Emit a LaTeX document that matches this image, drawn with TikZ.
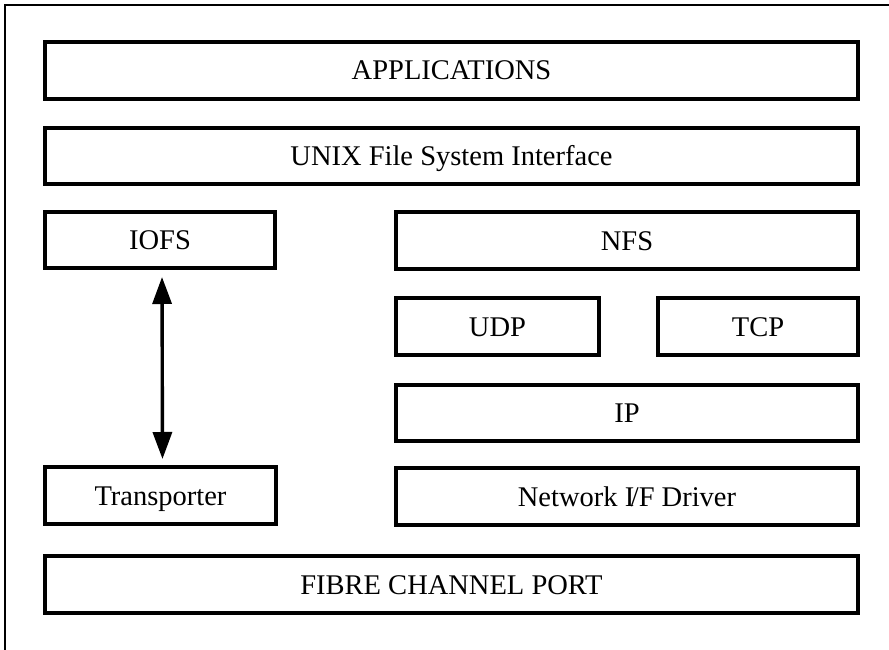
\documentclass[tikz,border=0pt]{standalone}
\usepackage{fontspec}
\setmainfont{Liberation Serif}
\usetikzlibrary{arrows.meta}

\tikzset{
  layer/.style={draw, line width=3.1pt, inner sep=0pt, outer sep=0pt,
    text height=19pt, text depth=0pt,
    font=\fontsize{28.5}{34}\selectfont},
  frameline/.style={line width=2.2pt},
  linkarrow/.style={line width=3.4pt,
    {Triangle[length=27pt,width=19pt]}-{Triangle[length=27pt,width=19pt]}}
}

% layer box: #1 name, #2 left, #3 top, #4 right, #5 bottom, #6 text
\newcommand{\layerbox}[6]{%
  \node[layer, minimum width={#4-#2}, minimum height={#5-#3}]
    (#1) at ({(#2+#4)/2},{(#3+#5)/2}) {#6};}

\begin{document}
\begin{tikzpicture}[x=1pt,y=-1pt]
  \useasboundingbox (0,0) rectangle (889,650);

  % enclosing frame, open to the right and bottom
  \draw[frameline] (5,650) -- (5,5) -- (889,5);

  \layerbox{apps}{45}{42}{858}{99}{APPLICATIONS}
  \layerbox{unix}{45}{128}{858}{184}{UNIX File System Interface}
  \layerbox{iofs}{45}{212}{275}{268}{IOFS}
  \layerbox{nfs}{396}{212}{858}{269}{NFS}
  \layerbox{udp}{396}{298}{599}{355}{UDP}
  \layerbox{tcp}{658}{298}{858}{355}{TCP}
  \layerbox{ip}{396}{385}{858}{441}{IP}
  \layerbox{trans}{45}{467}{276}{524}{Transporter}
  \layerbox{netdrv}{396}{468}{858}{525}{Network I\kern-0.12em/F Driver}
  \layerbox{fcport}{45}{556}{858}{613}{FIBRE CHANNEL PORT}

  % IOFS <-> Transporter
  \draw[linkarrow, shorten <=9pt, shorten >=8pt]
    ([xshift=2pt]iofs.south) -- ([xshift=2pt]trans.north);
\end{tikzpicture}
\end{document}
